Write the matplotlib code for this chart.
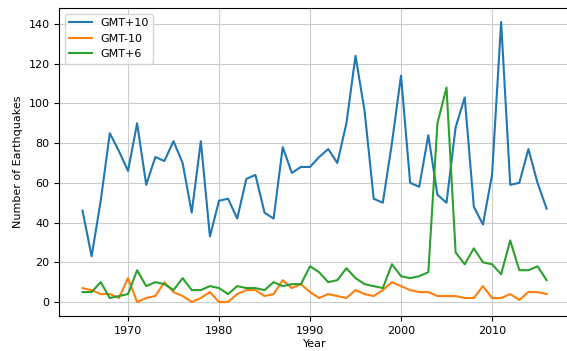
import numpy as np
from matplotlib import pyplot as plt

years = np.arange(1965, 2017)

gmt_plus10 = [46, 23, 51, 85, 76, 66, 90, 59, 73, 71, 81, 70, 45, 81, 33, 51, 52, 42, 62, 64,
              45, 42, 78, 65, 68, 68, 73, 77, 70, 90, 124, 96, 52, 50, 80, 114, 60, 58, 84, 54,
              50, 88, 103, 48, 39, 64, 141, 59, 60, 77, 60, 47]
gmt_minus10 = [7, 6, 4, 4, 2, 12, 0, 2, 3, 10, 5, 3, 0, 2, 5, 0, 0, 4, 6, 6,
               3, 4, 11, 7, 9, 5, 2, 4, 3, 2, 6, 4, 3, 6, 10, 8, 6, 5, 5, 3,
               3, 3, 2, 2, 8, 2, 2, 4, 1, 5, 5, 4]
gmt_plus6 = [5, 5, 10, 2, 3, 4, 16, 8, 10, 9, 6, 12, 6, 6, 8, 7, 4, 8, 7, 7,
             6, 10, 8, 9, 9, 18, 15, 10, 11, 17, 12, 9, 8, 7, 19, 13, 12, 13, 15, 90,
             108, 25, 19, 27, 20, 19, 14, 31, 16, 16, 18, 11]

fig = plt.figure(figsize=(5.67, 3.51), dpi=100)
ax = fig.add_axes([0.1046, 0.0997, 0.9004, 0.8775])

ax.plot(years, gmt_plus10, label='GMT+10', linewidth=1.5)
ax.plot(years, gmt_minus10, label='GMT-10', linewidth=1.5)
ax.plot(years, gmt_plus6, label='GMT+6', linewidth=1.5)

ax.set_xlabel('Year', fontsize=8, labelpad=2)
ax.set_ylabel('Number of Earthquakes', fontsize=8, labelpad=4)
ax.tick_params(labelsize=8)
ax.set_yticks(np.arange(0, 141, 20))
ax.grid(True, color='#cccccc', linewidth=0.8)
ax.legend(loc='upper left', fontsize=8)

plt.savefig('out.png', dpi=100)
